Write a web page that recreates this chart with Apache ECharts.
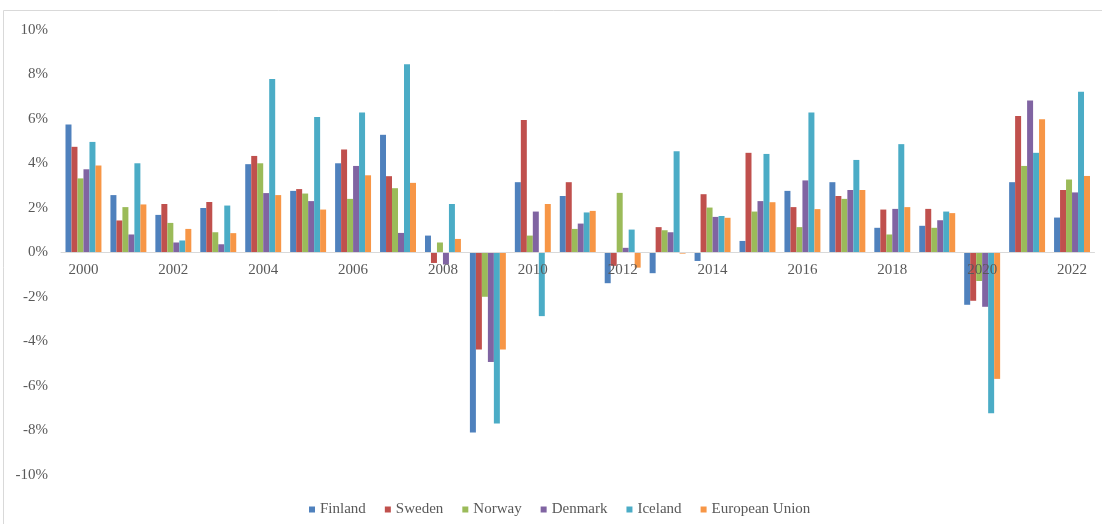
<!DOCTYPE html>
<html>
<head>
<meta charset="utf-8">
<script src="https://cdn.jsdelivr.net/npm/echarts@6/dist/echarts.min.js"></script>
<style>
  html, body { margin: 0; padding: 0; background: #ffffff; }
  #chart { width: 1102px; height: 524px; }
</style>
</head>
<body>
<div id="chart"></div>
<script>
// Annual real GDP growth, %, 2000–2022
const years = ['2000','2001','2002','2003','2004','2005','2006','2007','2008','2009','2010','2011',
               '2012','2013','2014','2015','2016','2017','2018','2019','2020','2021','2022'];

const finland = [5.75, 2.58, 1.69, 2.00, 3.97, 2.77, 4.01, 5.29, 0.76, -8.09, 3.16, 2.54,
                 -1.38, -0.93, -0.38, 0.52, 2.77, 3.16, 1.11, 1.20, -2.35, 3.16, 1.57];
const sweden = [4.75, 1.44, 2.18, 2.27, 4.34, 2.85, 4.63, 3.43, -0.47, -4.36, 5.95, 3.16,
                -0.60, 1.14, 2.62, 4.48, 2.04, 2.54, 1.93, 1.96, -2.17, 6.14, 2.81];
const norway = [3.33, 2.04, 1.33, 0.91, 4.01, 2.65, 2.41, 2.89, 0.45, -1.99, 0.76, 1.06,
                2.68, 1.00, 2.02, 1.84, 1.14, 2.41, 0.81, 1.11, -1.28, 3.89, 3.28];
const denmark = [3.74, 0.81, 0.45, 0.37, 2.67, 2.31, 3.89, 0.88, -0.54, -4.92, 1.84, 1.30,
                 0.21, 0.91, 1.60, 2.31, 3.24, 2.81, 1.96, 1.45, -2.44, 6.83, 2.70];
const iceland = [4.97, 4.01, 0.54, 2.11, 7.80, 6.09, 6.29, 8.46, 2.18, -7.69, -2.86, 1.80,
                 1.03, 4.55, 1.64, 4.43, 6.29, 4.16, 4.87, 1.84, -7.22, 4.48, 7.22];
const eu = [3.91, 2.16, 1.06, 0.87, 2.58, 1.93, 3.47, 3.13, 0.61, -4.36, 2.18, 1.87,
            -0.68, -0.05, 1.56, 2.26, 1.95, 2.81, 2.04, 1.77, -5.68, 5.99, 3.44];

const seriesNames = ['Finland', 'Sweden', 'Norway', 'Denmark', 'Iceland', 'European Union'];
const seriesData = [finland, sweden, norway, denmark, iceland, eu];
const colors = ['#4F81BD', '#C0504D', '#9BBB59', '#8064A2', '#4BACC6', '#F79646'];

const serif = '"Liberation Serif", "Times New Roman", serif';
const textGray = '#595959';

// grid geometry; the category axis sits on the 0% line
const gridTop = 30, gridBottom = 49, chartH = 524;
const yMin = -10, yMax = 10;
const plotH = chartH - gridTop - gridBottom;
const zeroOffset = -plotH * (0 - yMin) / (yMax - yMin);

const chart = echarts.init(document.getElementById('chart'), null, { renderer: 'canvas' });

chart.setOption({
  backgroundColor: '#ffffff',
  animation: false,
  color: colors,
  graphic: [{
    type: 'rect',
    shape: { x: 3.5, y: 10.5, width: 1200, height: 700 },
    style: { fill: 'none', stroke: '#d9d9d9', lineWidth: 1 },
    silent: true
  }],
  grid: { left: 61, right: 7.5, top: gridTop, bottom: gridBottom, containLabel: false },
  legend: {
    data: seriesNames,
    left: 304,
    top: 497,
    icon: 'rect',
    itemWidth: 6,
    itemHeight: 6,
    itemGap: 19,
    textStyle: { fontFamily: serif, fontSize: 15, color: textGray }
  },
  xAxis: {
    type: 'category',
    data: years,
    z: 3,
    offset: zeroOffset,
    axisLine: { onZero: false, lineStyle: { color: '#d9d9d9', width: 1 } },
    axisTick: { show: false },
    axisLabel: {
      interval: 1,
      margin: 10,
      fontFamily: serif,
      fontSize: 15,
      color: textGray
    },
    splitLine: { show: false }
  },
  yAxis: {
    type: 'value',
    min: yMin,
    max: yMax,
    interval: 2,
    axisLine: { show: false },
    axisTick: { show: false },
    splitLine: { show: false },
    axisLabel: {
      formatter: '{value}%',
      margin: 13,
      fontFamily: serif,
      fontSize: 15,
      color: textGray
    }
  },
  series: seriesNames.map((name, i) => ({
    name: name,
    type: 'bar',
    data: seriesData[i],
    barGap: '0%',
    barCategoryGap: '20%',
    itemStyle: { color: colors[i] }
  }))
});
</script>
</body>
</html>
